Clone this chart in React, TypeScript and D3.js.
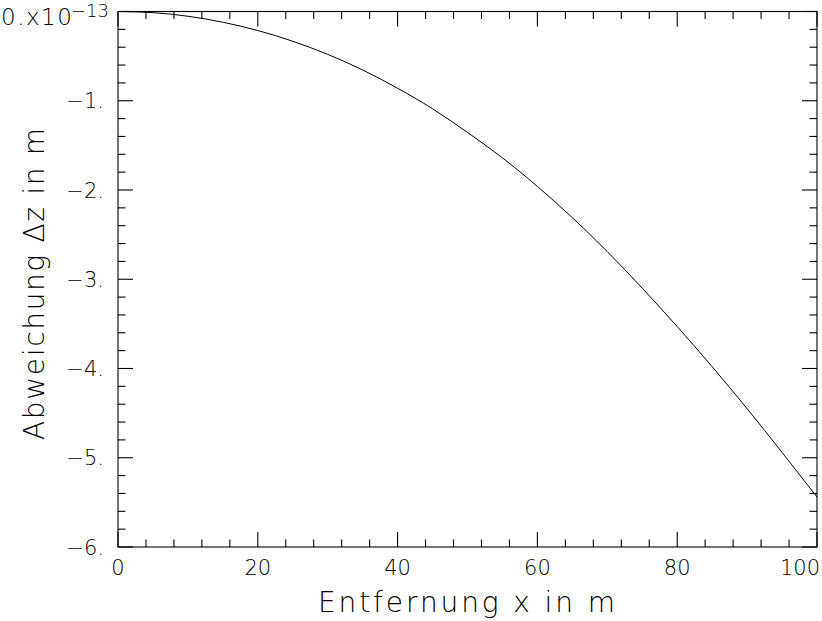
import React from "react";
import * as d3 from "d3";

const xValues = [0, 5, 10, 15, 20, 25, 30, 35, 40, 45, 50, 55, 60, 65, 70, 75, 80, 85, 90, 95, 100];
const dzValues = [0, -0.013, -0.053, -0.12, -0.213, -0.333, -0.48, -0.655, -0.86, -1.09, -1.355, -1.64, -1.96, -2.31, -2.69, -3.1, -3.53, -3.98, -4.45, -4.94, -5.44];
const xTickValues = [0, 20, 40, 60, 80, 100];
const xTickLabels = ["0", "20", "40", "60", "80", "100"];
const yTickValues = [-1, -2, -3, -4, -5, -6];
const yTickLabels = ["\u22121.", "\u22122.", "\u22123.", "\u22124.", "\u22125.", "\u22126."];
const xTitle = "Entfernung  x  in  m";
const yTitle = "Abweichung  \u0394z  in  m";

const FONT = "'DejaVu Sans', sans-serif";

export default function App() {
  const W = 822, H = 621;
  const x = d3.scaleLinear().domain([0, 100]).range([118, 817]);
  const y = d3.scaleLinear().domain([-6, 0]).range([547, 11.5]);
  const [x0, x1] = x.range();
  const [y0, y1] = y.range();
  const line = d3
    .line<number>()
    .x((_, i) => x(xValues[i]))
    .y((d) => y(d))
    .curve(d3.curveNatural);

  const xMinor = d3.range(0, 100.001, 4);
  const yMinor = d3.range(-6, 0.001, 0.2);
  const isMajorX = (v: number) => Math.abs(v / 20 - Math.round(v / 20)) < 1e-6;
  const isMajorY = (v: number) => Math.abs(v - Math.round(v)) < 1e-6;
  const MAJ = 15, MIN = 7.5;

  return (
    <svg width={W} height={H} style={{ position: "absolute", left: 0, top: 0, background: "#fff" }}>
      <g stroke="#000" strokeWidth={1.1} fill="none">
        <rect x={x0} y={y1} width={x1 - x0} height={y0 - y1} />
        {xMinor.map((v, i) => {
          const L = isMajorX(v) ? MAJ : MIN;
          return (
            <g key={"xt" + i}>
              <line x1={x(v)} x2={x(v)} y1={y0} y2={y0 - L} />
              <line x1={x(v)} x2={x(v)} y1={y1} y2={y1 + L} />
            </g>
          );
        })}
        {yMinor.map((v, i) => {
          const L = isMajorY(v) ? MAJ : MIN;
          return (
            <g key={"yt" + i}>
              <line x1={x0} x2={x0 + L} y1={y(v)} y2={y(v)} />
              <line x1={x1} x2={x1 - L} y1={y(v)} y2={y(v)} />
            </g>
          );
        })}
        <path d={line(dzValues) || ""} strokeWidth={1} />
      </g>
      <g fontFamily={FONT} fontWeight={200} fontSize={21} fill="#000">
        {xTickValues.map((v, i) => (
          <text
            key={"xl" + i}
            x={i === xTickValues.length - 1 ? 820 : x(v)}
            y={575}
            textAnchor={i === xTickValues.length - 1 ? "end" : "middle"}
          >
            {xTickLabels[i]}
          </text>
        ))}
        {yTickValues.map((v, i) => (
          <text key={"yl" + i} x={104} y={y(v) + 7.5} textAnchor="end">
            {yTickLabels[i]}
          </text>
        ))}
        <text x={1} y={25} fontSize={23} letterSpacing={1.5}>
          0.x10
        </text>
        <text x={71} y={17} fontSize={18}>
          {"\u221213"}
        </text>
        <text x={318} y={612} fontSize={28} textLength={297} lengthAdjust="spacing">
          {xTitle}
        </text>
        <text
          transform={`translate(44, 440) rotate(-90)`}
          fontSize={28}
          textLength={312}
          lengthAdjust="spacing"
        >
          {yTitle}
        </text>
      </g>
    </svg>
  );
}
